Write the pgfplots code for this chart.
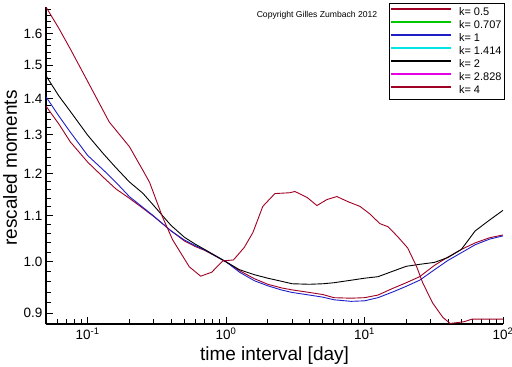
\documentclass[border=0pt]{standalone}
\usepackage{pgfplots}
\pgfplotsset{compat=1.18}
\usepackage{pgfplotstable}
\usepackage{fontspec}
\setmainfont{Liberation Sans}

\definecolor{lineA}{RGB}{160,0,35}
\definecolor{kgreen}{RGB}{0,200,0}
\definecolor{kblue}{RGB}{30,30,200}
\definecolor{kcyan}{RGB}{0,230,230}
\definecolor{kmag}{RGB}{230,0,230}

\pgfplotstableread{
x     k05    k1     k2
0.05  1.378  1.405  1.467
0.062 1.328  1.350  1.407
0.075 1.280  1.306  1.363
0.1   1.228  1.245  1.298
0.13  1.190  1.208  1.249
0.16  1.162  1.178  1.214
0.2   1.140  1.144  1.179
0.25  1.117  1.119  1.152
0.3   1.098  1.099  1.123
0.4   1.066  1.066  1.078
0.5   1.044  1.046  1.052
0.6   1.032  1.034  1.037
0.7   1.024  1.025  1.026
0.8   1.015  1.016  1.016
1.0   1.000  1.000  1.000
1.25  0.982  0.979  0.984
1.6   0.966  0.962  0.974
2.0   0.955  0.952  0.967
2.5   0.948  0.944  0.961
3.0   0.944  0.939  0.956
4.0   0.939  0.934  0.955
5.0   0.935  0.930  0.956
6.0   0.929  0.925  0.958
8.0   0.928  0.922  0.963
10    0.929  0.923  0.967
12.5  0.934  0.929  0.970
16    0.947  0.940  0.981
20    0.958  0.951  0.991
25    0.970  0.963  0.995
32    0.993  0.984  0.999
40    1.010  1.003  1.009
50    1.026  1.019  1.026
63    1.040  1.036  1.066
80    1.051  1.048  1.090
100   1.057  1.055  1.112
}\maintab

\pgfplotstableread{
x     k4
0.05  1.690
0.062 1.617
0.075 1.550
0.1   1.450
0.143 1.334
0.2   1.268
0.25  1.208
0.28  1.178
0.346 1.098
0.41  1.047
0.542 0.990
0.655 0.971
0.787 0.979
0.946 1.002
1.13  1.004
1.35  1.030
1.56  1.062
1.84  1.121
2.25  1.151
2.89  1.153
3.14  1.156
3.84  1.142
4.53  1.123
5.35  1.137
6.31  1.144
7.59  1.132
9.27  1.121
10.9  1.104
12.9  1.082
14.8  1.075
17.4  1.053
20.5  1.029
23.8  0.990
26.3  0.958
31.0  0.919
36.8  0.892
41.5  0.881
52    0.884
60    0.889
100   0.889
}\wildtab

\begin{document}
\begin{tikzpicture}
\begin{axis}[
  name=ax,
  scale only axis,
  width=457pt, height=317pt,
  xmode=log, ymode=log,
  xmin=0.05, xmax=100,
  ymin=0.88, ymax=1.69,
  axis x line*=bottom,
  axis y line*=left,
  axis line style={line width=1.2pt},
  tick align=inside,
  major tick length=7pt,
  minor tick length=5pt,
  every tick/.style={black, line width=0.8pt},
  xtick={0.1,1,10,100},
  xticklabels={{10\textsuperscript{-1}},{10\textsuperscript{0}},{10\textsuperscript{1}},{10\textsuperscript{2}}},
  minor xtick={0.06,0.07,0.08,0.09,0.2,0.3,0.4,0.5,0.6,0.7,0.8,0.9,2,3,4,5,6,7,8,9,20,30,40,50,60,70,80,90},
  ytick={0.9,1.0,1.1,1.2,1.3,1.4,1.5,1.6},
  yticklabels={0.9,1.0,1.1,1.2,1.3,1.4,1.5,1.6},
  minor ytick={0.88,0.92,0.94,0.96,0.98,1.02,1.04,1.06,1.08,1.12,1.14,1.16,1.18,1.22,1.24,1.26,1.28,1.32,1.34,1.36,1.38,1.42,1.44,1.46,1.48,1.52,1.54,1.56,1.58,1.62,1.64,1.66,1.68},
  ticklabel style={font=\fontsize{13.5}{15}\selectfont},
  xlabel={time interval [day]},
  ylabel={rescaled moments},
  label style={font=\fontsize{19}{21}\selectfont},
  xlabel style={at={(axis description cs:0.5,-0.1167)}, anchor=base, inner sep=0pt},
  ylabel style={at={(axis description cs:-0.0635,0.492)}, anchor=base, inner sep=0pt},
  legend style={at={(rel axis cs:1.0044,1.0126)}, anchor=north east,
    draw=black, line width=1pt, fill=white,
    font=\fontsize{11}{12}\selectfont,
    inner xsep=1pt, inner ysep=2.5pt, row sep=0pt, column sep=5pt,
    nodes={inner xsep=2pt, inner ysep=1pt, text height=8.5pt, text depth=2.5pt}},
  legend cell align=left,
  legend image code/.code={\draw[#1, line width=1.8pt] (0pt,3.3pt) -- (60pt,3.3pt);},
  every axis plot/.append style={line width=0.9pt},
]
\addplot[draw=lineA, forget plot] table[x=x, y=k05] {\maintab};
\addplot[draw=kblue, forget plot] table[x=x, y=k1] {\maintab};
\addplot[draw=black, forget plot] table[x=x, y=k2] {\maintab};
\addplot[draw=lineA, forget plot] table[x=x, y=k4] {\wildtab};
\addlegendimage{draw=lineA}
\addlegendentry{k= 0.5}
\addlegendimage{draw=kgreen}
\addlegendentry{k= 0.707}
\addlegendimage{draw=kblue}
\addlegendentry{k= 1}
\addlegendimage{draw=kcyan}
\addlegendentry{k= 1.414}
\addlegendimage{draw=black}
\addlegendentry{k= 2}
\addlegendimage{draw=kmag}
\addlegendentry{k= 2.828}
\addlegendimage{draw=lineA}
\addlegendentry{k= 4}
\node[font=\fontsize{8.6}{10}\selectfont] at (rel axis cs:0.593,0.975) {Copyright Gilles Zumbach 2012};
\end{axis}
\pgfresetboundingbox
\path[use as bounding box] ([xshift=-46pt,yshift=-42pt]ax.south west) rectangle ([xshift=9pt,yshift=7pt]ax.north east);
\end{tikzpicture}
\end{document}
